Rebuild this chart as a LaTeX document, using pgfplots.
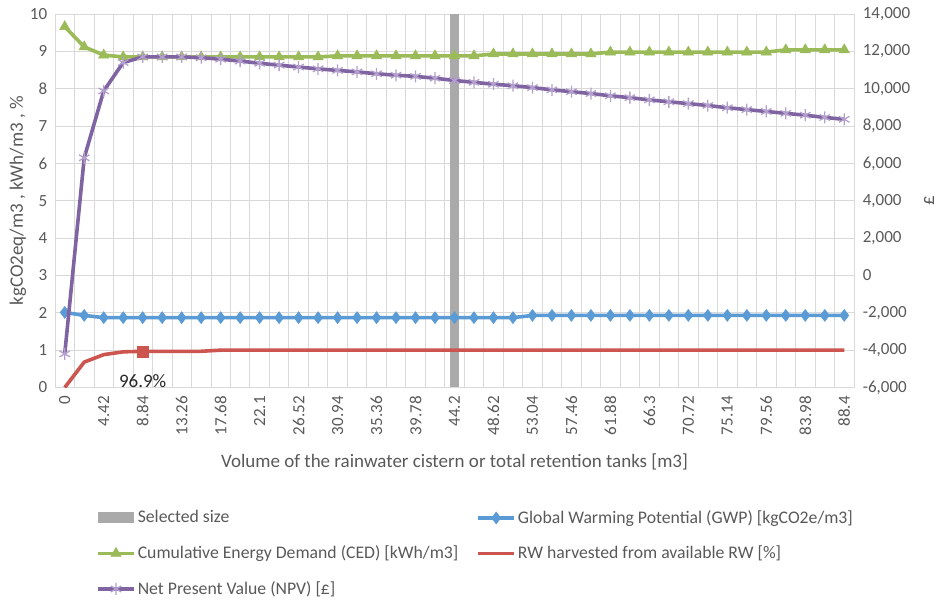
\documentclass[border=0pt]{standalone}
\usepackage{fontspec}
\setmainfont{Carlito}
\usepackage{pgfplots}
\usepackage{pgfplotstable}
\pgfplotsset{compat=1.18}

\definecolor{gridgray}{RGB}{217,217,217}
\definecolor{txtgray}{RGB}{89,89,89}
\definecolor{selgray}{RGB}{170,170,170}
\definecolor{gwpblue}{RGB}{91,155,213}
\definecolor{cedgreen}{RGB}{155,187,89}
\definecolor{rwred}{RGB}{205,85,80}
\definecolor{npvpurple}{RGB}{128,100,162}
\definecolor{npvmark}{RGB}{180,160,205}

% idx = position of the category (0 ... 88.4 m3 in steps of 2.21)
\pgfplotstableread{
idx gwp ced rw npv
0 2.01 9.66 0 -4200
1 1.93 9.12 0.68 6300
2 1.87 8.90 0.88 9880
3 1.87 8.85 0.955 11400
4 1.87 8.85 0.969 11700
5 1.87 8.85 0.969 11700
6 1.87 8.85 0.969 11700
7 1.87 8.85 0.969 11660
8 1.87 8.85 1 11580
9 1.87 8.85 1 11480
10 1.87 8.85 1 11360
11 1.87 8.85 1 11260
12 1.87 8.85 1 11160
13 1.87 8.85 1 11060
14 1.87 8.88 1 10980
15 1.87 8.88 1 10900
16 1.87 8.88 1 10800
17 1.87 8.88 1 10720
18 1.87 8.88 1 10660
19 1.87 8.88 1 10560
20 1.87 8.88 1 10440
21 1.87 8.88 1 10340
22 1.87 8.93 1 10240
23 1.87 8.93 1 10160
24 1.93 8.93 1 10060
25 1.93 8.93 1 9940
26 1.93 8.93 1 9840
27 1.93 8.93 1 9740
28 1.93 8.98 1 9620
29 1.93 8.98 1 9520
30 1.93 8.98 1 9400
31 1.93 8.98 1 9300
32 1.93 8.98 1 9200
33 1.93 8.98 1 9100
34 1.93 8.98 1 8980
35 1.93 8.98 1 8880
36 1.93 8.98 1 8780
37 1.93 9.04 1 8680
38 1.93 9.04 1 8580
39 1.93 9.04 1 8460
40 1.93 9.04 1 8360
}\data

\pgfplotsset{
  base/.style={
    scale only axis, width=799pt, height=373.5pt,
    xmin=-0.5, xmax=40.5,
    major tick length=0pt, minor tick length=0pt,
    tick label style={text=txtgray},
    label style={text=txtgray, font=\fontsize{19}{22}\selectfont},
    axis line style={draw=gridgray},
  },
  lineleg/.style={
    legend image code/.code={\draw[mark repeat=2,mark phase=2,##1] plot coordinates {(0pt,0pt) (18pt,0pt) (36pt,0pt)};}
  },
}

\begin{document}
\fontsize{17}{20}\selectfont
\begin{tikzpicture}
\begin{axis}[base,
  ymin=0, ymax=10, ytick={0,1,...,10},
  /pgf/number format/assume math mode=true,
  xtick={0,2,...,40},
  xticklabels={0,4.42,8.84,13.26,17.68,22.1,26.52,30.94,35.36,39.78,44.2,48.62,53.04,57.46,61.88,66.3,70.72,75.14,79.56,83.98,88.4},
  minor xtick={-0.5,0.5,...,40.5},
  xminorgrids, ymajorgrids,
  grid style={draw=gridgray, line width=0.8pt},
  minor grid style={draw=gridgray, line width=0.8pt},
  x tick label style={rotate=90, anchor=east, xshift=-3pt},
  y tick label style={xshift=-2pt},
  xlabel={Volume of the rainwater cistern or total retention tanks [m3]},
  xlabel style={at={(axis description cs:0.5,0)}, anchor=base, yshift=-80pt},
  ylabel={kgCO2eq/m3 , kWh/m3 , \%},
  ylabel style={at={(axis description cs:-0.0464,0.5)}, anchor=center},
  lineleg,
  legend columns=2,
  legend cell align=left,
  legend style={at={(axis description cs:0,0)}, anchor=north west,
    xshift=38pt, yshift=-118.5pt, draw=none, fill=none,
    text=txtgray, row sep=16pt, font=\fontsize{17.7}{21}\selectfont,
    /tikz/every even column/.append style={column sep=16pt}},
]
\addplot[ybar, bar width=0.42, fill=selgray, draw=none,
  legend image code/.code={\fill[selgray] (0pt,-5.5pt) rectangle (36pt,5.5pt);}]
  coordinates {(20,10)};
\addlegendentry{Selected size}
\addplot[gwpblue, line width=3.6pt, mark=diamond*, mark size=6pt, mark options={solid, line width=0.5pt}]
  table[x=idx, y=gwp] {\data};
\addlegendentry{Global Warming Potential (GWP) [kgCO2e/m3]}
\addplot[cedgreen, line width=3.6pt, mark=triangle*, mark size=6pt, mark options={solid, line width=0.5pt}]
  table[x=idx, y=ced] {\data};
\addlegendentry{Cumulative Energy Demand (CED) [kWh/m3]}
\addplot[rwred, line width=3.6pt, no marks]
  table[x=idx, y=rw] {\data};
\addlegendentry{RW harvested from available RW [\%]}
\addplot[rwred, only marks, mark=square*, mark size=5.5pt, forget plot]
  coordinates {(4,0.969)};
\node[text=black!85, anchor=center, font=\fontsize{19}{22}\selectfont] at (axis cs:4,0.969) [yshift=-30pt] {96.9\%};
\addlegendimage{npvpurple, line width=3.6pt, mark=asterisk, mark size=6pt, mark options={solid, npvmark, line width=1.3pt}}
\addlegendentry{Net Present Value (NPV) [£]}
\end{axis}

\begin{axis}[base,
  ymin=-6000, ymax=14000,
  axis x line=none, axis y line*=right,
  scaled y ticks=false,
  ytick={-6000,-4000,...,14000},
  yticklabels={{-6,000},{-4,000},{-2,000},{0},{2,000},{4,000},{6,000},{8,000},{10,000},{12,000},{14,000}},
  y tick label style={anchor=west, xshift=3pt},
  ylabel={£},
  ylabel style={at={(axis description cs:1.094,0.5)}, anchor=center},
]
\addplot[npvpurple, line width=3.6pt, mark=asterisk, mark size=6pt, mark options={solid, npvmark, line width=1.3pt}]
  table[x=idx, y=npv] {\data};
\end{axis}
\pgfresetboundingbox
\path (-55pt,-214.5pt) rectangle (883pt,387.5pt);
\end{tikzpicture}
\end{document}
